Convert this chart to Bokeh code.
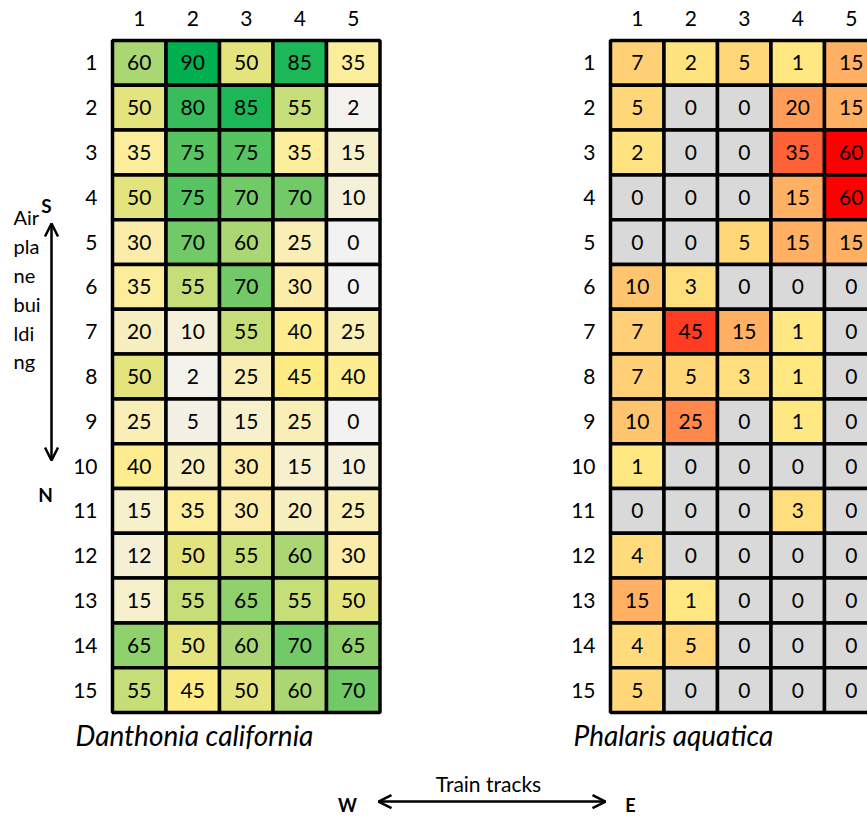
from bokeh.plotting import figure
from bokeh.models import Range1d, ColumnDataSource, Arrow, OpenHead
from bokeh.core.properties import value
from bokeh.embed import file_html
from bokeh.resources import INLINE

# ---------------- data ----------------
rows = list(range(1, 16))
cols = list(range(1, 6))
row_labels = [str(r) for r in rows]
col_labels = [str(c) for c in cols]

danthonia = [
    [60, 90, 50, 85, 35],
    [50, 80, 85, 55, 2],
    [35, 75, 75, 35, 15],
    [50, 75, 70, 70, 10],
    [30, 70, 60, 25, 0],
    [35, 55, 70, 30, 0],
    [20, 10, 55, 40, 25],
    [50, 2, 25, 45, 40],
    [25, 5, 15, 25, 0],
    [40, 20, 30, 15, 10],
    [15, 35, 30, 20, 25],
    [12, 50, 55, 60, 30],
    [15, 55, 65, 55, 50],
    [65, 50, 60, 70, 65],
    [55, 45, 50, 60, 70],
]
phalaris = [
    [7, 2, 5, 1, 15],
    [5, 0, 0, 20, 15],
    [2, 0, 0, 35, 60],
    [0, 0, 0, 15, 60],
    [0, 0, 5, 15, 15],
    [10, 3, 0, 0, 0],
    [7, 45, 15, 1, 0],
    [7, 5, 3, 1, 0],
    [10, 25, 0, 1, 0],
    [1, 0, 0, 0, 0],
    [0, 0, 0, 3, 0],
    [4, 0, 0, 0, 0],
    [15, 1, 0, 0, 0],
    [4, 5, 0, 0, 0],
    [5, 0, 0, 0, 0],
]
titles = ["Danthonia california", "Phalaris aquatica"]
side_text = ["Air", "pla", "ne", "bui", "ldi", "ng"]

FONT = value("Lato")


def lerp(c1, c2, t):
    return tuple(int(round(a + (b - a) * t)) for a, b in zip(c1, c2))


def hexc(c):
    return "#%02x%02x%02x" % c


def green_scale(v, vmax=90, mid=45):
    lo, md, hi = (242, 242, 242), (255, 235, 132), (0, 176, 80)
    if v <= mid:
        return hexc(lerp(lo, md, v / mid))
    return hexc(lerp(md, hi, (v - mid) / (vmax - mid)))


def red_scale(v, vmax=60):
    if v == 0:
        return "#d9d9d9"
    return hexc(lerp((255, 235, 132), (255, 0, 0), v / vmax))


# ---------------- figure ----------------
W, H = 867, 817
UX, UY = 53.5, 44.8
x0 = 0.5 - 112 / UX
y0 = 0.5 - 40 / UY
p = figure(width=W, height=H, output_backend="svg", toolbar_location=None,
           x_range=Range1d(x0, x0 + W / UX), y_range=Range1d(y0 + H / UY, y0),
           x_axis_location=None, y_axis_location=None, min_border=0)
p.grid.visible = False
p.outline_line_color = None
p.background_fill_color = "white"

OFFSET = 9.308  # horizontal shift of the second grid, in cell units


def grid(data, colorf, off, title):
    xs, ys, vals, fills = [], [], [], []
    for ri, r in enumerate(rows):
        for ci, c in enumerate(cols):
            v = data[ri][ci]
            xs.append(c + off)
            ys.append(r)
            vals.append(str(v))
            fills.append(colorf(v))
    src = ColumnDataSource(dict(x=xs, y=ys, t=vals, f=fills))
    p.rect("x", "y", width=1, height=1, source=src, fill_color="f",
           line_color="black", line_width=3.5)
    p.text("x", "y", text="t", source=src, text_align="center",
           text_baseline="middle", text_font=FONT, text_font_size="21px",
           text_color="black")
    # row labels
    p.text([0.22 + off] * len(rows), rows, text=row_labels, text_align="right",
           text_baseline="middle", text_font=FONT, text_font_size="21px",
           text_color="black")
    # column labels
    p.text([c + off for c in cols], [0.02] * len(cols), text=col_labels,
           text_align="center", text_baseline="middle", text_font=FONT,
           text_font_size="21px", text_color="black")
    # title
    p.text([-0.19 + off], [16.0], text=[title], text_align="left",
           text_baseline="middle", text_font=FONT, text_font_size="28px",
           text_font_style="italic", text_color="black")


grid(danthonia, green_scale, 0.0, titles[0])
grid(phalaris, red_scale, OFFSET, titles[1])

# vertical S-N arrow
p.add_layout(Arrow(x_start=-0.64, y_start=9.875, x_end=-0.64, y_end=4.585,
                   line_width=2.5, line_color="black",
                   start=OpenHead(size=13, line_width=2.5, line_color="black"),
                   end=OpenHead(size=13, line_width=2.5, line_color="black")))
p.text([-0.734], [4.18], text=["S"], text_align="center", text_baseline="middle",
       text_font=FONT, text_font_size="19px", text_font_style="bold")
p.text([-0.752], [10.63], text=["N"], text_align="center", text_baseline="middle",
       text_font=FONT, text_font_size="19px", text_font_style="bold")
p.text([-1.351] * len(side_text), [4.45 + i * 0.643 for i in range(len(side_text))],
       text=side_text, text_align="left", text_baseline="middle",
       text_font=FONT, text_font_size="20px")

# horizontal W-E arrow
p.add_layout(Arrow(x_start=5.472, y_start=17.487, x_end=9.715, y_end=17.487,
                   line_width=2.5, line_color="black",
                   start=OpenHead(size=13, line_width=2.5, line_color="black"),
                   end=OpenHead(size=13, line_width=2.5, line_color="black")))
p.text([7.528], [17.085], text=["Train tracks"], text_align="center",
       text_baseline="middle", text_font=FONT, text_font_size="21px")
p.text([4.892], [17.56], text=["W"], text_align="center", text_baseline="middle",
       text_font=FONT, text_font_size="18px", text_font_style="bold")
p.text([10.182], [17.56], text=["E"], text_align="center", text_baseline="middle",
       text_font=FONT, text_font_size="18px", text_font_style="bold")

open("out.html", "w").write(file_html(p, INLINE))
